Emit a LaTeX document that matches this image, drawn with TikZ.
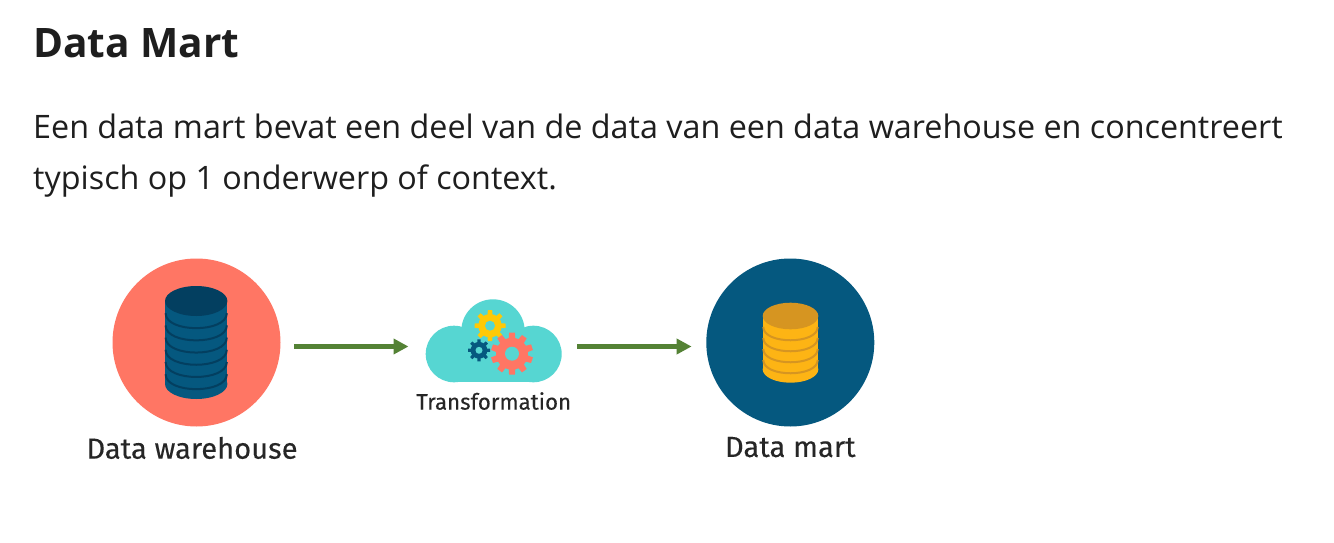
\documentclass[tikz,border=0pt]{standalone}
\usepackage{fontspec}
\setmainfont{Open Sans}
\newfontfamily\captionfont[FakeBold=0.2]{Fira Sans}
\usepackage{xcolor}
\usetikzlibrary{arrows.meta,positioning}
\definecolor{inktext}{HTML}{1E1E1E}
\definecolor{salmon}{HTML}{FF7664}
\definecolor{deepblue}{HTML}{05587F}
\definecolor{darkblue}{HTML}{033F60}
\definecolor{amber}{HTML}{FDB414}
\definecolor{darkamber}{HTML}{D69521}
\definecolor{cloudteal}{HTML}{56D6D2}
\definecolor{gearyellow}{HTML}{FFC907}
\definecolor{arrowgreen}{HTML}{548235}
% center x, center y, radius, hole, teeth, colour
\newcommand{\drawgear}[6]{
  \fill[#6] (#1,#2) circle[radius=0.76*#3pt];
  \pgfmathsetmacro{\toothstep}{360/#5}
  \foreach \i in {1,...,#5}
    \fill[#6,shift={(#1,#2)},rotate=\i*\toothstep] (-0.2*#3,0) -- (-0.14*#3,#3) -- (0.14*#3,#3) -- (0.2*#3,0) -- cycle;
  \fill[cloudteal] (#1,#2) circle[radius=#4pt];
}
% center x, top y, bottom y, half width, half height of the ellipse, step, bands, body, dark
\newcommand{\drawstack}[9]{
  \fill[#8] (#1-#4,#2) rectangle (#1+#4,#3);
  \fill[#8] (#1,#3) ellipse[x radius=#4pt,y radius=#5pt];
  \foreach \k in {1,...,#7}
    \draw[#9,line width=2pt] (#1-#4+0.6,#2+\k*#6) .. controls (#1-#4+0.6,#2+\k*#6+#5*1.33) and (#1+#4-0.6,#2+\k*#6+#5*1.33) .. (#1+#4-0.6,#2+\k*#6);
  \fill[#9] (#1,#2) ellipse[x radius=#4pt,y radius=#5pt];
}
\begin{document}
\begin{tikzpicture}[
  x=1pt, y=-1pt,
  heading/.style={anchor=base west, inner sep=0pt, text=inktext, font=\bfseries\fontsize{40.6}{46}\selectfont},
  bodytext/.style={anchor=base west, inner sep=0pt, text=inktext, font=\fontsize{32.3}{38}\selectfont},
  disc/.style={circle, inner sep=0pt, minimum size=168pt},
  caption/.style={inner sep=0pt, text=black!85, font=\captionfont\fontsize{29.1}{33}\selectfont},
  smallcaption/.style={inner sep=0pt, text=black!85, font=\captionfont\fontsize{22.3}{26}\selectfont},
  flow/.style={-{Triangle[length=15pt,width=15pt]}, line width=4.5pt, draw=arrowgreen}
]
\useasboundingbox (0,0) rectangle (1334,543);
\fill[white] (0,0) rectangle (1334,543);
\node[heading] (title) at (33,58) {Data Mart};
\node[bodytext] (line1) at (33,138) {Een data mart bevat een deel van de data van een data warehouse en concentreert};
\node[bodytext] (line2) at (33,189) {typisch op 1 onderwerp of context.};

\node[disc, fill=salmon] (warehouse) at (196.5,342.5) {};
\node[disc, fill=deepblue] (mart) at (790.3,342.5) {};
\node[minimum width=136pt, minimum height=83pt, inner sep=0pt] (cloud) at (493.7,340.8) {};

\node[caption, below=10pt of warehouse, xshift=-4.5pt] (warehouselabel) {Data warehouse};
\node[caption, below=10pt of mart] (martlabel) {Data mart};
\node[smallcaption, below=9.5pt of cloud] (cloudlabel) {Transformation};

\drawstack{196.2}{301}{384}{31.2}{15}{12.2}{6}{deepblue}{darkblue}
\drawstack{790.5}{316}{369.4}{27.8}{13.3}{11}{4}{amber}{darkamber}

% cloud body
\fill[cloudteal] (493,331) circle[radius=31.7pt];
\fill[cloudteal] (454,354) circle[radius=28.3pt];
\fill[cloudteal] (533.4,354) circle[radius=28.3pt];
\fill[cloudteal] (454,335) rectangle (533.4,382.3);
\drawgear{490}{325.7}{15.5}{5}{8}{gearyellow}
\drawgear{479}{350.3}{11}{3.5}{8}{deepblue}
\drawgear{512}{353.7}{21}{7}{10}{salmon}

\draw[flow] ([xshift=13.5pt,yshift=-4pt]warehouse.east) -- ([xshift=-17pt,yshift=-5.7pt]cloud.west);
\draw[flow] ([xshift=15.5pt,yshift=-5.7pt]cloud.east) -- ([xshift=-14.5pt,yshift=-4pt]mart.west);
\end{tikzpicture}
\end{document}
